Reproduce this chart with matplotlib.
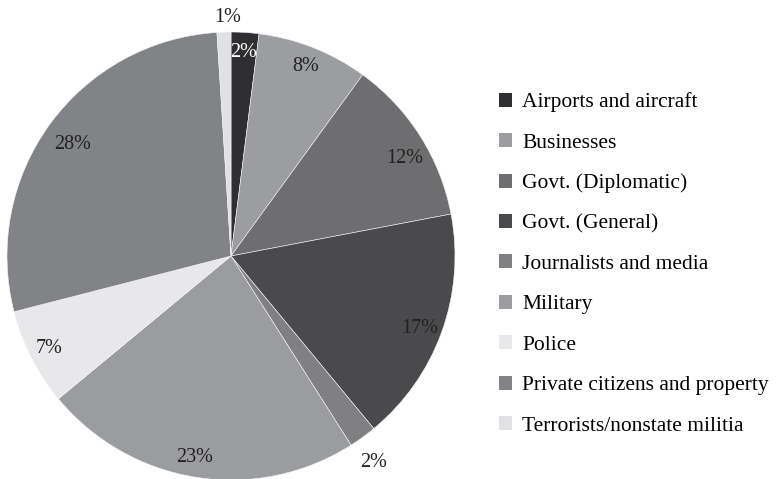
import matplotlib.pyplot as plt

plt.rcParams["font.family"] = ["Liberation Serif", "DejaVu Serif"]

categories = [
    "Airports and aircraft",
    "Businesses",
    "Govt. (Diplomatic)",
    "Govt. (General)",
    "Journalists and media",
    "Military",
    "Police",
    "Private citizens and property",
    "Terrorists/nonstate militia",
]
shares = [2, 8, 12, 17, 2, 23, 7, 28, 1]
colors = ["#2f2f31", "#9c9da0", "#6e6e70", "#4a4a4c", "#808083",
          "#9b9ca0", "#e8e8ea", "#828386", "#e0e1e3"]
label_colors = ["white", "#222222", "#222222", "#222222", "#222222",
                "#222222", "#222222", "#222222", "#222222"]

W, H = 777, 479
cx, cy, R = 231, 223, 224  # pie centre (from bottom-left) and radius, px

fig = plt.figure(figsize=(W / 100, H / 100), dpi=100)
ax = fig.add_axes([0, 0, 1, 1])

wedges, texts, autotexts = ax.pie(
    shares, colors=colors, startangle=90, counterclock=False,
    autopct="%d%%", pctdistance=0.91,
    wedgeprops=dict(edgecolor="#f4f4f4", linewidth=0.4),
    textprops=dict(fontsize=14.5),
)
for t, c in zip(autotexts, label_colors):
    t.set_color(c)

# the two thin slivers get their labels pushed outside the rim
for i, r in [(4, 1.11), (8, 1.08)]:
    x, y = autotexts[i].get_position()
    autotexts[i].set_position((x / 0.91 * r, y / 0.91 * r))
    autotexts[i].set_color("#222222")

# small hand nudges (px, +y up) for a few labels
nudges = {2: (2, -12), 3: (-3, -3), 5: (-5, 0), 7: (6, -8), 8: (4, -3), 4: (-4, -5)}
for i, (dx, dy) in nudges.items():
    x, y = autotexts[i].get_position()
    autotexts[i].set_position((x + dx / R, y + dy / R))

ax.set_xlim(-cx / R, (W - cx) / R)
ax.set_ylim(-cy / R, (H - cy) / R)
ax.set_aspect("equal", adjustable="datalim")
ax.axis("off")

leg = fig.legend(
    wedges, categories, loc="center left",
    bbox_to_anchor=(499 / W, (H - 264) / H), frameon=False,
    fontsize=15.5, handlelength=0.62, handleheight=0.62,
    handletextpad=0.45, labelspacing=0.97, borderaxespad=0,
    borderpad=0,
)
for h in leg.legend_handles:
    h.set_edgecolor("none")

fig.savefig("out.png", dpi=100)
